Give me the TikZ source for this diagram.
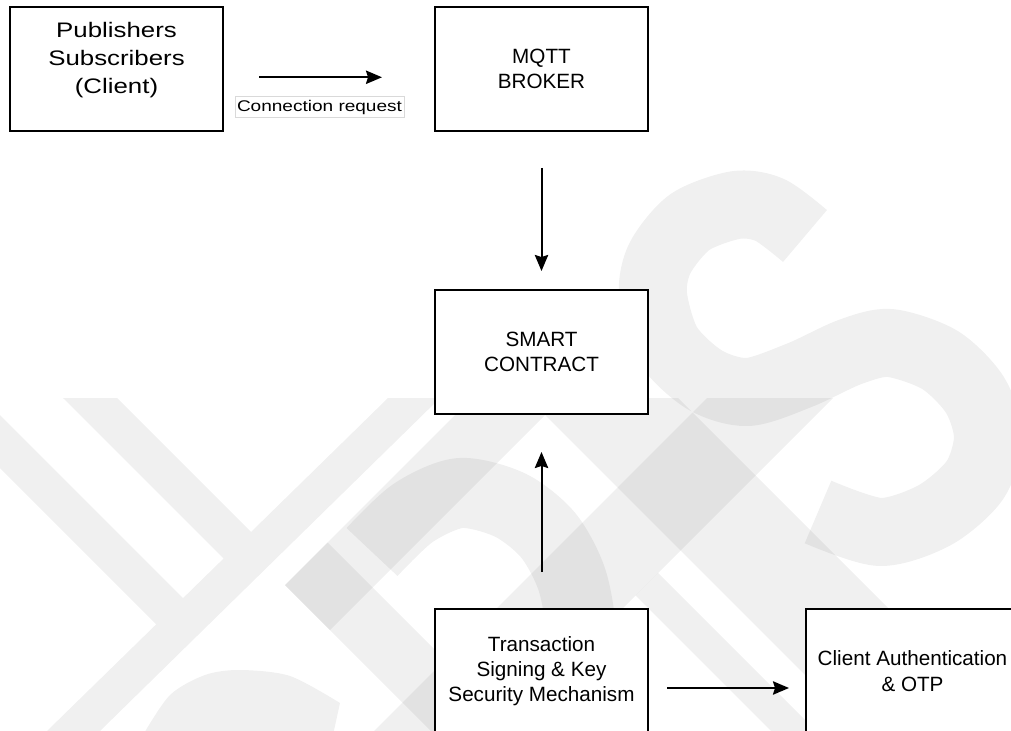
\documentclass[tikz,border=0pt]{standalone}
\usepackage{fontspec}
\setmainfont{Liberation Sans}
\usepackage{graphicx}
\usetikzlibrary{arrows.meta}

\begin{document}
\begin{tikzpicture}[x=0.75pt,y=-0.75pt,
  box/.style={draw=black, fill=white, line width=1.5pt,
    minimum width=213*0.75pt, minimum height=124*0.75pt, inner sep=0pt,
    align=center, font=\fontsize{15.5pt}{19pt}\selectfont},
  arr/.style={draw=black, line width=1.5pt,
    -{Stealth[length=12pt,width=10pt,inset=1.5pt]}},
  wm/.style={fill=black, fill opacity=0.058},
  wmline/.style={draw=black, draw opacity=0.058, line cap=butt, line join=round}
]
\useasboundingbox (0,0) rectangle (1011,731);

% faint background emblem
\begin{scope}
  \clip (0,0) rectangle (1011,731);
  % Y
  \fill[wm] (47,731) -- (223.6,558.5) -- (63,398) -- (117,398) -- (251,532)
            -- (388,398) -- (440,398) -- (100,731) -- cycle
            (0,415) -- (183,598) -- (156,624) -- (0,468) -- cycle;
  % diagonal bands
  \fill[wm] (472,398) -- (562,398) -- (330,630) -- (285,585) -- cycle;
  \fill[wm] (285,585) -- (327.5,542.5) -- (516,731) -- (431,731) -- cycle;
  \fill[wm] (707,398) -- (833,398) -- (500,731) -- (374,731) -- cycle;
  \fill[wm] (528,398) -- (678,398) -- (1011,731) -- (861,731) -- cycle;
  \fill[wm] (635.5,595.5) -- (658,573) -- (816,731) -- (771,731) -- cycle;
  % arches
  \draw[wmline, line width=52.5pt] plot[smooth] coordinates
    {(372,552) (413,513) (460,493) (510,505) (548,535) (572,580) (582,640) (585,745)};
  \fill[wm] plot[smooth] coordinates
    {(143,735) (170,695) (205,675) (240,670) (290,676) (340,703)} -- (333,735) -- cycle;
  % S
  \draw[wmline, line width=51pt] plot[smooth] coordinates
    {(805,236) (770,210) (736,205) (690,222) (660,258) (653,295) (668,345) (705,380)
     (748,392) (800,375) (850,352) (890,343) (940,360) (975,395) (988,437) (975,480)
     (935,515) (880,532) (818,512)};
\end{scope}

% boxes
\node[box] (pub) at (116.5,69) {};
\node[align=center, inner sep=0pt, font=\fontsize{15.75pt}{21pt}\selectfont] (pubtext) at (116.5,60)
  {\scalebox{1.23}[1]{Publishers}\\\scalebox{1.23}[1]{Subscribers}\\\scalebox{1.23}[1]{(Client)}};
\node[box] (mqtt) at (541.5,69) {MQTT\\BROKER};
\node[box] (smart) at (541.5,352) {SMART\\CONTRACT};
\node[box] (trans) at (541.5,671) {Transaction\\Signing \& Key\\Security Mechanism};
\node[box] (client) at (912.5,671) {Client Authentication\\\& OTP};

% connectors
\draw[arr, shorten <=26.25pt, shorten >=39pt] ([yshift=-6.2pt]pub.east) -- ([yshift=-6.2pt]mqtt.west);
\node[draw=black!15, line width=0.75pt, fill=white, minimum width=169*0.75pt,
      minimum height=21*0.75pt, inner sep=0pt, font=\fontsize{11.6pt}{14pt}\selectfont]
  (req) at (319.5,107.5) {\scalebox{1.23}[1]{Connection request}};
\draw[arr, shorten <=27pt, shorten >=13.5pt] (mqtt) -- (smart);
\draw[arr, shorten <=27pt, shorten >=27.75pt] (trans) -- (smart);
\draw[arr, shorten <=13.5pt, shorten >=12pt] ([yshift=-12.75pt]trans.east) -- ([yshift=-12.75pt]client.west);
\end{tikzpicture}
\end{document}
